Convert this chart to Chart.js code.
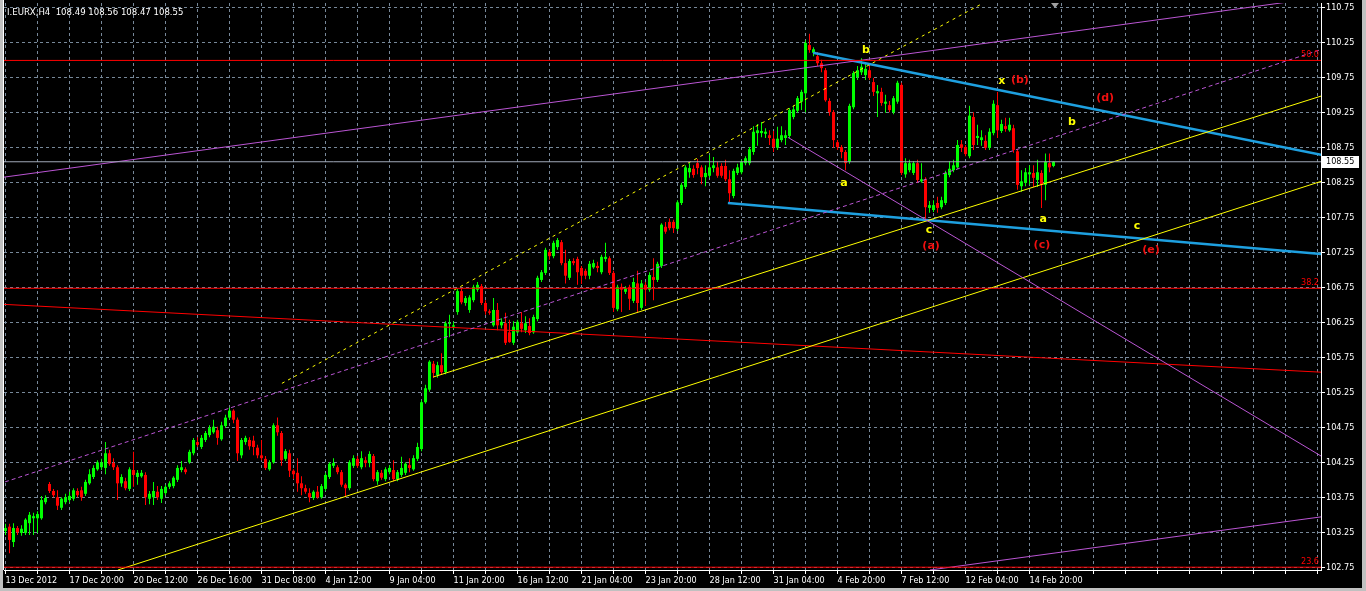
<!DOCTYPE html>
<html>
<head>
<meta charset="utf-8">
<script src="https://cdn.jsdelivr.net/npm/chart.js@4.4.1/dist/chart.umd.min.js"></script>
<style>
  html, body { margin: 0; padding: 0; background: #c0c0c0; overflow: hidden; }
  canvas { display: block; }
</style>
</head>
<body>
<canvas id="chart" width="1366" height="591"></canvas>
<script>
// I.EURX H4, 13 Dec 2012 .. 15 Feb 2013, one entry per 4-hour bar
const symbolName = 'I.EURX,H4';

const opens = [
  103.27,103.33,103.11,103.31,103.24,103.24,103.38,103.45,103.45,103.45,
  103.68,103.94,103.84,103.75,103.60,103.68,103.71,103.73,103.84,103.85,
  103.80,103.95,104.04,104.15,104.18,104.17,104.38,104.24,104.18,103.95,
  103.98,103.87,104.14,104.04,104.05,104.07,103.73,103.75,103.83,103.73,
  103.81,103.90,103.91,104.00,104.14,104.15,104.25,104.38,104.54,104.47,
  104.57,104.64,104.68,104.71,104.58,104.77,104.89,104.99,104.86,104.35,
  104.54,104.57,104.56,104.46,104.35,104.30,104.15,104.25,104.78,104.67,
  104.30,104.38,104.13,104.10,103.95,103.88,103.81,103.74,103.83,103.75,
  103.87,104.04,104.20,104.18,104.11,103.93,103.88,104.20,104.30,104.18,
  104.28,104.24,104.34,103.98,104.10,104.01,104.11,104.14,104.01,104.07,
  104.10,104.21,104.15,104.30,104.44,105.11,105.29,105.66,105.50,105.64,
  105.54,106.23,106.19,106.40,106.70,106.53,106.43,106.57,106.72,106.77,
  106.53,106.41,106.21,106.43,106.21,106.24,106.11,105.96,106.11,106.24,
  106.14,106.20,106.11,106.30,106.86,106.96,107.26,107.20,107.33,107.40,
  107.10,106.89,107.13,107.16,107.03,106.99,106.92,107.04,107.06,106.97,
  107.16,107.17,106.96,106.44,106.76,106.69,106.76,106.56,106.81,106.46,
  106.79,106.72,106.90,106.86,107.06,107.62,107.69,107.69,107.59,107.96,
  108.19,108.40,108.45,108.53,108.47,108.33,108.35,108.46,108.47,108.49,
  108.49,108.30,108.06,108.39,108.40,108.53,108.53,108.69,108.96,108.96,
  108.95,108.93,108.88,108.75,108.86,108.89,108.92,109.19,109.28,109.41,
  109.53,110.22,110.11,110.06,109.96,109.86,109.42,109.26,108.83,108.76,
  108.69,108.55,109.33,109.76,109.83,109.79,109.86,109.69,109.53,109.55,
  109.38,109.36,109.26,109.41,109.65,108.37,108.43,108.39,108.53,108.27,
  108.30,107.89,107.86,107.96,107.90,107.96,108.36,108.43,108.47,108.80,
  108.76,108.63,109.19,108.89,108.86,108.85,108.75,108.96,109.36,108.99,
  109.06,109.00,109.03,108.70,108.20,108.25,108.37,108.39,108.29,108.39,
  108.22,108.53,108.49
];
const highs = [
  103.37,103.37,103.38,103.34,103.35,103.45,103.54,103.53,103.55,103.77,
  103.78,103.97,103.87,103.85,103.75,103.80,103.83,103.88,103.88,103.90,
  104.00,104.15,104.21,104.28,104.30,104.54,104.43,104.31,104.21,104.08,
  104.03,104.18,104.40,104.14,104.14,104.11,103.84,103.97,103.91,103.91,
  103.93,103.98,104.05,104.21,104.27,104.18,104.43,104.60,104.61,104.64,
  104.70,104.78,104.86,104.76,104.83,104.93,105.03,105.01,104.89,104.60,
  104.63,104.61,104.63,104.50,104.57,104.34,104.28,104.81,104.89,104.70,
  104.44,104.43,104.15,104.31,104.05,103.93,103.88,103.85,103.91,103.94,
  104.10,104.25,104.31,104.21,104.14,103.95,104.28,104.35,104.34,104.41,
  104.33,104.41,104.37,104.14,104.14,104.18,104.21,104.28,104.14,104.33,
  104.25,104.31,104.35,104.53,105.14,105.36,105.71,105.70,105.69,105.81,
  106.27,106.36,106.26,106.73,106.74,106.63,106.64,106.79,106.83,106.80,
  106.57,106.44,106.60,106.53,106.31,106.39,106.29,106.27,106.29,106.40,
  106.34,106.31,106.36,106.92,107.00,107.32,107.29,107.42,107.46,107.43,
  107.29,107.16,107.17,107.19,107.06,107.02,107.13,107.15,107.12,107.22,
  107.39,107.20,106.99,106.79,106.81,106.77,106.79,106.89,106.99,106.86,
  106.83,106.97,107.17,107.12,107.67,107.69,107.74,107.72,108.00,108.25,
  108.50,108.53,108.50,108.59,108.50,108.50,108.65,108.62,108.55,108.53,
  108.58,108.43,108.45,108.52,108.58,108.63,108.76,109.06,109.09,109.12,
  109.03,109.00,108.99,109.05,109.06,109.00,109.32,109.35,109.49,109.58,
  110.29,110.38,110.19,110.12,110.01,109.89,109.46,109.29,108.86,108.79,
  108.72,109.38,109.85,109.92,110.03,109.95,109.92,109.75,109.65,109.61,
  109.51,109.42,109.49,109.71,109.68,108.60,108.58,108.56,108.58,108.53,
  108.33,107.99,108.00,108.05,108.05,108.42,108.56,108.58,108.86,108.86,
  108.79,109.35,109.26,109.08,109.00,108.93,109.03,109.43,109.55,109.15,
  109.18,109.18,109.08,108.73,108.43,108.46,108.50,108.50,108.58,108.43,
  108.67,108.67,108.56
];
const lows = [
  103.21,102.95,103.04,103.21,103.20,103.21,103.21,103.21,103.24,103.43,
  103.65,103.81,103.75,103.57,103.57,103.65,103.68,103.70,103.75,103.70,
  103.77,103.93,104.01,104.13,104.14,104.08,104.20,104.14,103.71,103.90,
  103.85,103.84,103.90,103.93,104.03,103.64,103.65,103.64,103.71,103.67,
  103.78,103.87,103.88,103.97,104.11,104.08,104.23,104.35,104.47,104.44,
  104.54,104.61,104.66,104.50,104.56,104.74,104.86,104.81,104.27,104.31,
  104.50,104.43,104.35,104.31,104.28,104.14,104.13,104.23,104.63,104.20,
  104.27,104.04,104.01,103.83,103.78,103.80,103.68,103.71,103.73,103.73,
  103.84,104.01,104.17,104.08,103.90,103.75,103.85,104.17,104.17,104.15,
  104.18,104.18,103.98,103.93,104.00,103.98,104.08,103.98,103.98,104.04,
  104.07,104.11,104.13,104.27,104.41,105.09,105.26,105.46,105.46,105.50,
  105.51,106.04,106.16,106.36,106.51,106.49,106.39,106.54,106.69,106.50,
  106.36,106.36,106.19,106.14,106.17,105.93,105.96,105.93,106.09,106.11,
  106.10,106.07,106.09,106.27,106.83,106.93,107.15,107.17,107.29,107.07,
  106.81,106.86,107.07,106.79,106.80,106.87,106.87,107.02,106.97,106.94,
  107.12,106.93,106.40,106.41,106.40,106.66,106.43,106.53,106.39,106.43,
  106.49,106.69,106.57,106.83,107.03,107.52,107.57,107.53,107.56,107.93,
  108.16,108.32,108.32,108.37,108.23,108.20,108.32,108.40,108.32,108.32,
  108.27,107.97,108.03,108.36,108.37,108.50,108.50,108.65,108.78,108.90,
  108.89,108.79,108.69,108.72,108.83,108.79,108.89,109.16,109.25,109.29,
  109.26,110.11,110.06,109.92,109.83,109.41,109.21,108.75,108.72,108.60,
  108.43,108.52,109.30,109.72,109.79,109.72,109.72,109.49,109.19,109.35,
  109.25,109.26,109.23,109.38,108.36,108.32,108.40,108.36,108.25,108.25,
  107.72,107.82,107.83,107.82,107.87,107.93,108.33,108.40,108.45,108.69,
  108.63,108.60,108.72,108.79,108.78,108.72,108.72,108.93,108.89,108.96,
  108.98,108.98,108.68,108.15,108.12,108.20,108.22,108.19,108.19,107.89,
  108.00,108.40,108.47
];
const closes = [
  103.31,103.14,103.31,103.25,103.30,103.43,103.50,103.48,103.51,103.71,
  103.74,103.84,103.78,103.63,103.73,103.75,103.77,103.85,103.78,103.75,
  103.97,104.08,104.17,104.25,104.25,104.38,104.23,104.18,103.95,104.04,
  103.88,104.15,104.07,104.10,104.10,103.75,103.80,103.84,103.75,103.87,
  103.90,103.95,104.03,104.17,104.18,104.11,104.40,104.57,104.50,104.60,
  104.67,104.74,104.76,104.60,104.78,104.89,104.99,104.86,104.38,104.57,
  104.60,104.48,104.47,104.35,104.31,104.17,104.25,104.78,104.68,104.28,
  104.41,104.13,104.08,103.95,103.88,103.83,103.75,103.83,103.75,103.91,
  104.07,104.23,104.24,104.11,103.93,103.88,104.25,104.31,104.20,104.31,
  104.24,104.37,104.01,104.11,104.03,104.15,104.17,104.01,104.11,104.17,
  104.23,104.17,104.31,104.47,105.11,105.31,105.69,105.53,105.64,105.54,
  106.24,106.24,106.21,106.70,106.54,106.60,106.61,106.76,106.79,106.53,
  106.41,106.39,106.43,106.21,106.26,105.96,105.97,106.19,106.26,106.16,
  106.24,106.10,106.33,106.89,106.97,107.29,107.20,107.39,107.43,107.10,
  106.92,107.13,107.10,106.97,106.92,106.92,107.09,107.10,107.03,107.19,
  107.19,106.96,106.46,106.76,106.72,106.74,106.59,106.83,106.53,106.81,
  106.72,106.93,106.86,107.09,107.65,107.55,107.60,107.60,107.97,108.22,
  108.47,108.46,108.36,108.46,108.33,108.39,108.47,108.50,108.35,108.35,
  108.30,108.10,108.42,108.47,108.55,108.60,108.73,108.98,109.00,108.99,
  108.98,108.89,108.76,108.88,108.93,108.93,109.29,109.30,109.46,109.55,
  110.25,110.15,110.16,109.96,109.89,109.43,109.26,108.86,108.76,108.69,
  108.53,109.35,109.82,109.86,109.91,109.88,109.75,109.55,109.56,109.39,
  109.41,109.29,109.46,109.68,108.39,108.53,108.53,108.53,108.29,108.30,
  107.90,107.93,107.93,107.89,108.00,108.39,108.45,108.50,108.79,108.75,
  108.66,109.21,108.79,108.92,108.90,108.75,108.98,109.38,109.00,109.09,
  109.02,109.08,108.72,108.22,108.27,108.40,108.40,108.32,108.40,108.22,
  108.55,108.47,108.55
];

// time axis: a date label every 16 bars, a grid line every 8
const timeLabels = [
  '13 Dec 2012', '17 Dec 20:00', '20 Dec 12:00', '26 Dec 16:00', '31 Dec 08:00',
  '4 Jan 12:00', '9 Jan 04:00', '11 Jan 20:00', '16 Jan 12:00', '21 Jan 04:00',
  '23 Jan 20:00', '28 Jan 12:00', '31 Jan 04:00', '4 Feb 20:00', '7 Feb 12:00',
  '12 Feb 04:00', '14 Feb 20:00'
];
const labelEvery = 16;
const gridEvery = 8;
const priceTicks = [102.75, 103.25, 103.75, 104.25, 104.75, 105.25, 105.75, 106.25,
                    106.75, 107.25, 107.75, 108.25, 108.75, 109.25, 109.75, 110.25, 110.75];

// fibonacci levels and current bid
const fibLevels = [110.00, 106.74, 102.75];
const fibNames = ['50.0', '38.2', '23.6'];
const bidPrice = 108.55;

// drawn objects, [bar, price] at both ends
const purpleTop = [[-0.375, 108.33], [328.875, 110.90]];
const purpleMid = [[-0.125, 103.97], [328.6, 110.15]];
const purpleDown = [[195.6, 108.90], [328.9, 104.34]];
const purpleLow = [[231.1, 102.71], [328.9, 103.47]];
const yellowLow = [[28.1, 102.71], [328.9, 108.27]];
const yellowMid = [[106.9, 105.47], [328.9, 109.49]];
const yellowUpper = [[69.1, 105.38], [244.4, 110.82]];
const redSlope = [[-0.375, 106.51], [328.9, 105.54]];
const blueUpper = [[201.9, 110.11], [328.9, 108.65]];
const blueLower = [[180.6, 107.96], [328.9, 107.23]];

// wave count labels
const waveText = ['b', 'x', '(b)', '(d)', 'b', 'a', 'c', '(a)', 'a', '(c)', 'c', '(e)'];
const waveBar = [215.1, 249.1, 253.6, 274.9, 266.6, 209.6, 230.9, 231.4, 259.4, 259.1, 282.9, 286.4];
const wavePrice = [110.15, 109.71, 109.72, 109.46, 109.12, 108.25, 107.57, 107.35, 107.73, 107.36, 107.63, 107.29];

const X_MIN = -0.375, X_MAX = 328.875;
const Y_MAX = 110.8215, Y_MIN = 102.7099;

const BULL = '#00ff00', BEAR = '#ff0000';
const GRID = '#778899';
const AXIS_FONT = "'DejaVu Sans Condensed', 'DejaVu Sans', sans-serif";

function line(points, color, width, dash) {
  return {
    type: 'line',
    data: points.map(p => ({ x: p[0], y: p[1] })),
    borderColor: color,
    borderWidth: width,
    borderDash: dash || [],
    pointRadius: 0,
    fill: false,
    tension: 0,
    order: 0
  };
}

const upBar = opens.map((o, i) => closes[i] >= o);

const datasets = [
  line([[X_MIN, bidPrice], [X_MAX, bidPrice]], '#a0a8b8', 1),
  line([[X_MIN, fibLevels[0]], [X_MAX, fibLevels[0]]], '#ff0000', 1),
  line([[X_MIN, fibLevels[1]], [X_MAX, fibLevels[1]]], '#ff0000', 1),
  line([[X_MIN, fibLevels[2]], [X_MAX, fibLevels[2]]], '#ff0000', 1),
  line(purpleTop, '#ba55d3', 1),
  line(purpleMid, '#ba55d3', 1, [4, 3]),
  line(purpleDown, '#ba55d3', 1),
  line(purpleLow, '#ba55d3', 1),
  line(yellowLow, '#ffff00', 1),
  line(yellowMid, '#ffff00', 1),
  line(yellowUpper, '#ffff00', 1, [3, 4]),
  line(redSlope, '#ff0000', 1),
  line(blueUpper, '#1ea0e0', 2.5),
  line(blueLower, '#1ea0e0', 2.5),
  {
    type: 'bar',
    data: opens.map((o, i) => ({ x: i, y: [lows[i], highs[i]] })),
    backgroundColor: upBar.map(u => u ? BULL : BEAR),
    barThickness: 1, maxBarThickness: 1, grouped: false,
    inflateAmount: 0, borderWidth: 0, minBarLength: 1, order: 2
  },
  {
    type: 'bar',
    data: opens.map((o, i) => ({ x: i, y: [o, closes[i]] })),
    backgroundColor: upBar.map(u => u ? BULL : BEAR),
    barThickness: 3, maxBarThickness: 3, grouped: false,
    inflateAmount: 0, borderWidth: 0, minBarLength: 1, order: 1
  }
];

const frame = {
  id: 'frame',
  beforeDraw(chart) {
    const c = chart.ctx;
    c.save();
    c.fillStyle = '#c0c0c0';
    c.fillRect(0, 0, chart.width, chart.height);
    c.fillStyle = '#000000';
    c.fillRect(3, 0, chart.width - 7, chart.height - 3);
    c.restore();
  },
  afterDraw(chart) {
    const c = chart.ctx;
    const xs = chart.scales.x, ys = chart.scales.y, a = chart.chartArea;
    c.save();

    // left frame edge
    c.strokeStyle = '#ffffff';
    c.lineWidth = 1;
    c.beginPath();
    c.moveTo(a.left - 0.5, 0);
    c.lineTo(a.left - 0.5, a.bottom);
    c.stroke();

    // fibo level captions
    c.font = "9px " + AXIS_FONT;
    c.fillStyle = '#ff0000';
    c.textAlign = 'right';
    c.textBaseline = 'bottom';
    fibLevels.forEach((lv, k) => {
      c.fillText(fibNames[k], a.right - 2, ys.getPixelForValue(lv) - 1);
    });

    // wave labels
    c.font = "bold 11px 'DejaVu Sans', sans-serif";
    c.textAlign = 'center';
    c.textBaseline = 'middle';
    waveText.forEach((t, k) => {
      c.fillStyle = t.charAt(0) === '(' ? '#f01010' : '#ffff00';
      c.fillText(t, xs.getPixelForValue(waveBar[k]), ys.getPixelForValue(wavePrice[k]));
    });

    // symbol and last bar prices
    const n = closes.length - 1;
    c.font = "9.5px " + AXIS_FONT;
    c.fillStyle = '#ffffff';
    c.textAlign = 'left';
    c.fillText(symbolName + '  ' + [opens[n], highs[n], lows[n], closes[n]].map(v => v.toFixed(2)).join(' '),
      a.left + 3, 13);

    // bid price box on the price axis
    c.font = "9px " + AXIS_FONT;
    const by = ys.getPixelForValue(bidPrice);
    c.fillStyle = '#ffffff';
    c.fillRect(a.right + 1, Math.round(by) - 6, 37, 12);
    c.fillStyle = '#000000';
    c.fillText(bidPrice.toFixed(2), a.right + 5, by);

    // chart shift marker
    const sx = Math.round(xs.getPixelForValue(n + 0.4));
    c.fillStyle = '#a0a0a0';
    c.beginPath();
    c.moveTo(sx - 4, a.top);
    c.lineTo(sx + 4, a.top);
    c.lineTo(sx, a.top + 5);
    c.closePath();
    c.fill();

    c.restore();
  }
};

new Chart(document.getElementById('chart').getContext('2d'), {
  type: 'bar',
  data: { datasets },
  options: {
    responsive: false,
    devicePixelRatio: 1,
    animation: false,
    events: [],
    layout: { padding: { left: 4, top: 3, right: 4, bottom: 3 } },
    plugins: { legend: { display: false }, tooltip: { enabled: false } },
    scales: {
      x: {
        type: 'linear',
        min: X_MIN,
        max: X_MAX,
        offset: false,
        afterBuildTicks(s) {
          const t = [];
          for (let v = 0; v <= X_MAX; v += gridEvery) t.push({ value: v });
          s.ticks = t;
        },
        afterFit(s) { s.height = 18; s.paddingLeft = 0; s.paddingRight = 0; },
        grid: { color: GRID, offset: false, tickLength: 4, tickColor: '#ffffff', tickBorderDash: [] },
        border: { display: true, color: '#ffffff', width: 1, dash: [3, 3] },
        ticks: {
          autoSkip: false, maxRotation: 0, minRotation: 0, align: 'start', padding: 1,
          color: '#ffffff', font: { family: AXIS_FONT, size: 9 },
          callback: v => (v % labelEvery === 0 && v / labelEvery < timeLabels.length) ? timeLabels[v / labelEvery] : ''
        }
      },
      y: {
        position: 'right',
        min: Y_MIN,
        max: Y_MAX,
        afterBuildTicks(s) { s.ticks = priceTicks.map(v => ({ value: v })); },
        afterFit(s) { s.width = 41; s.paddingTop = 0; s.paddingBottom = 0; },
        grid: { color: GRID, tickLength: 4, tickColor: '#ffffff', tickBorderDash: [] },
        border: { display: true, color: '#ffffff', width: 1, dash: [3, 3] },
        ticks: {
          padding: 1, color: '#ffffff', font: { family: AXIS_FONT, size: 9 },
          callback: v => v.toFixed(2)
        }
      }
    }
  },
  plugins: [frame]
});
</script>
</body>
</html>
